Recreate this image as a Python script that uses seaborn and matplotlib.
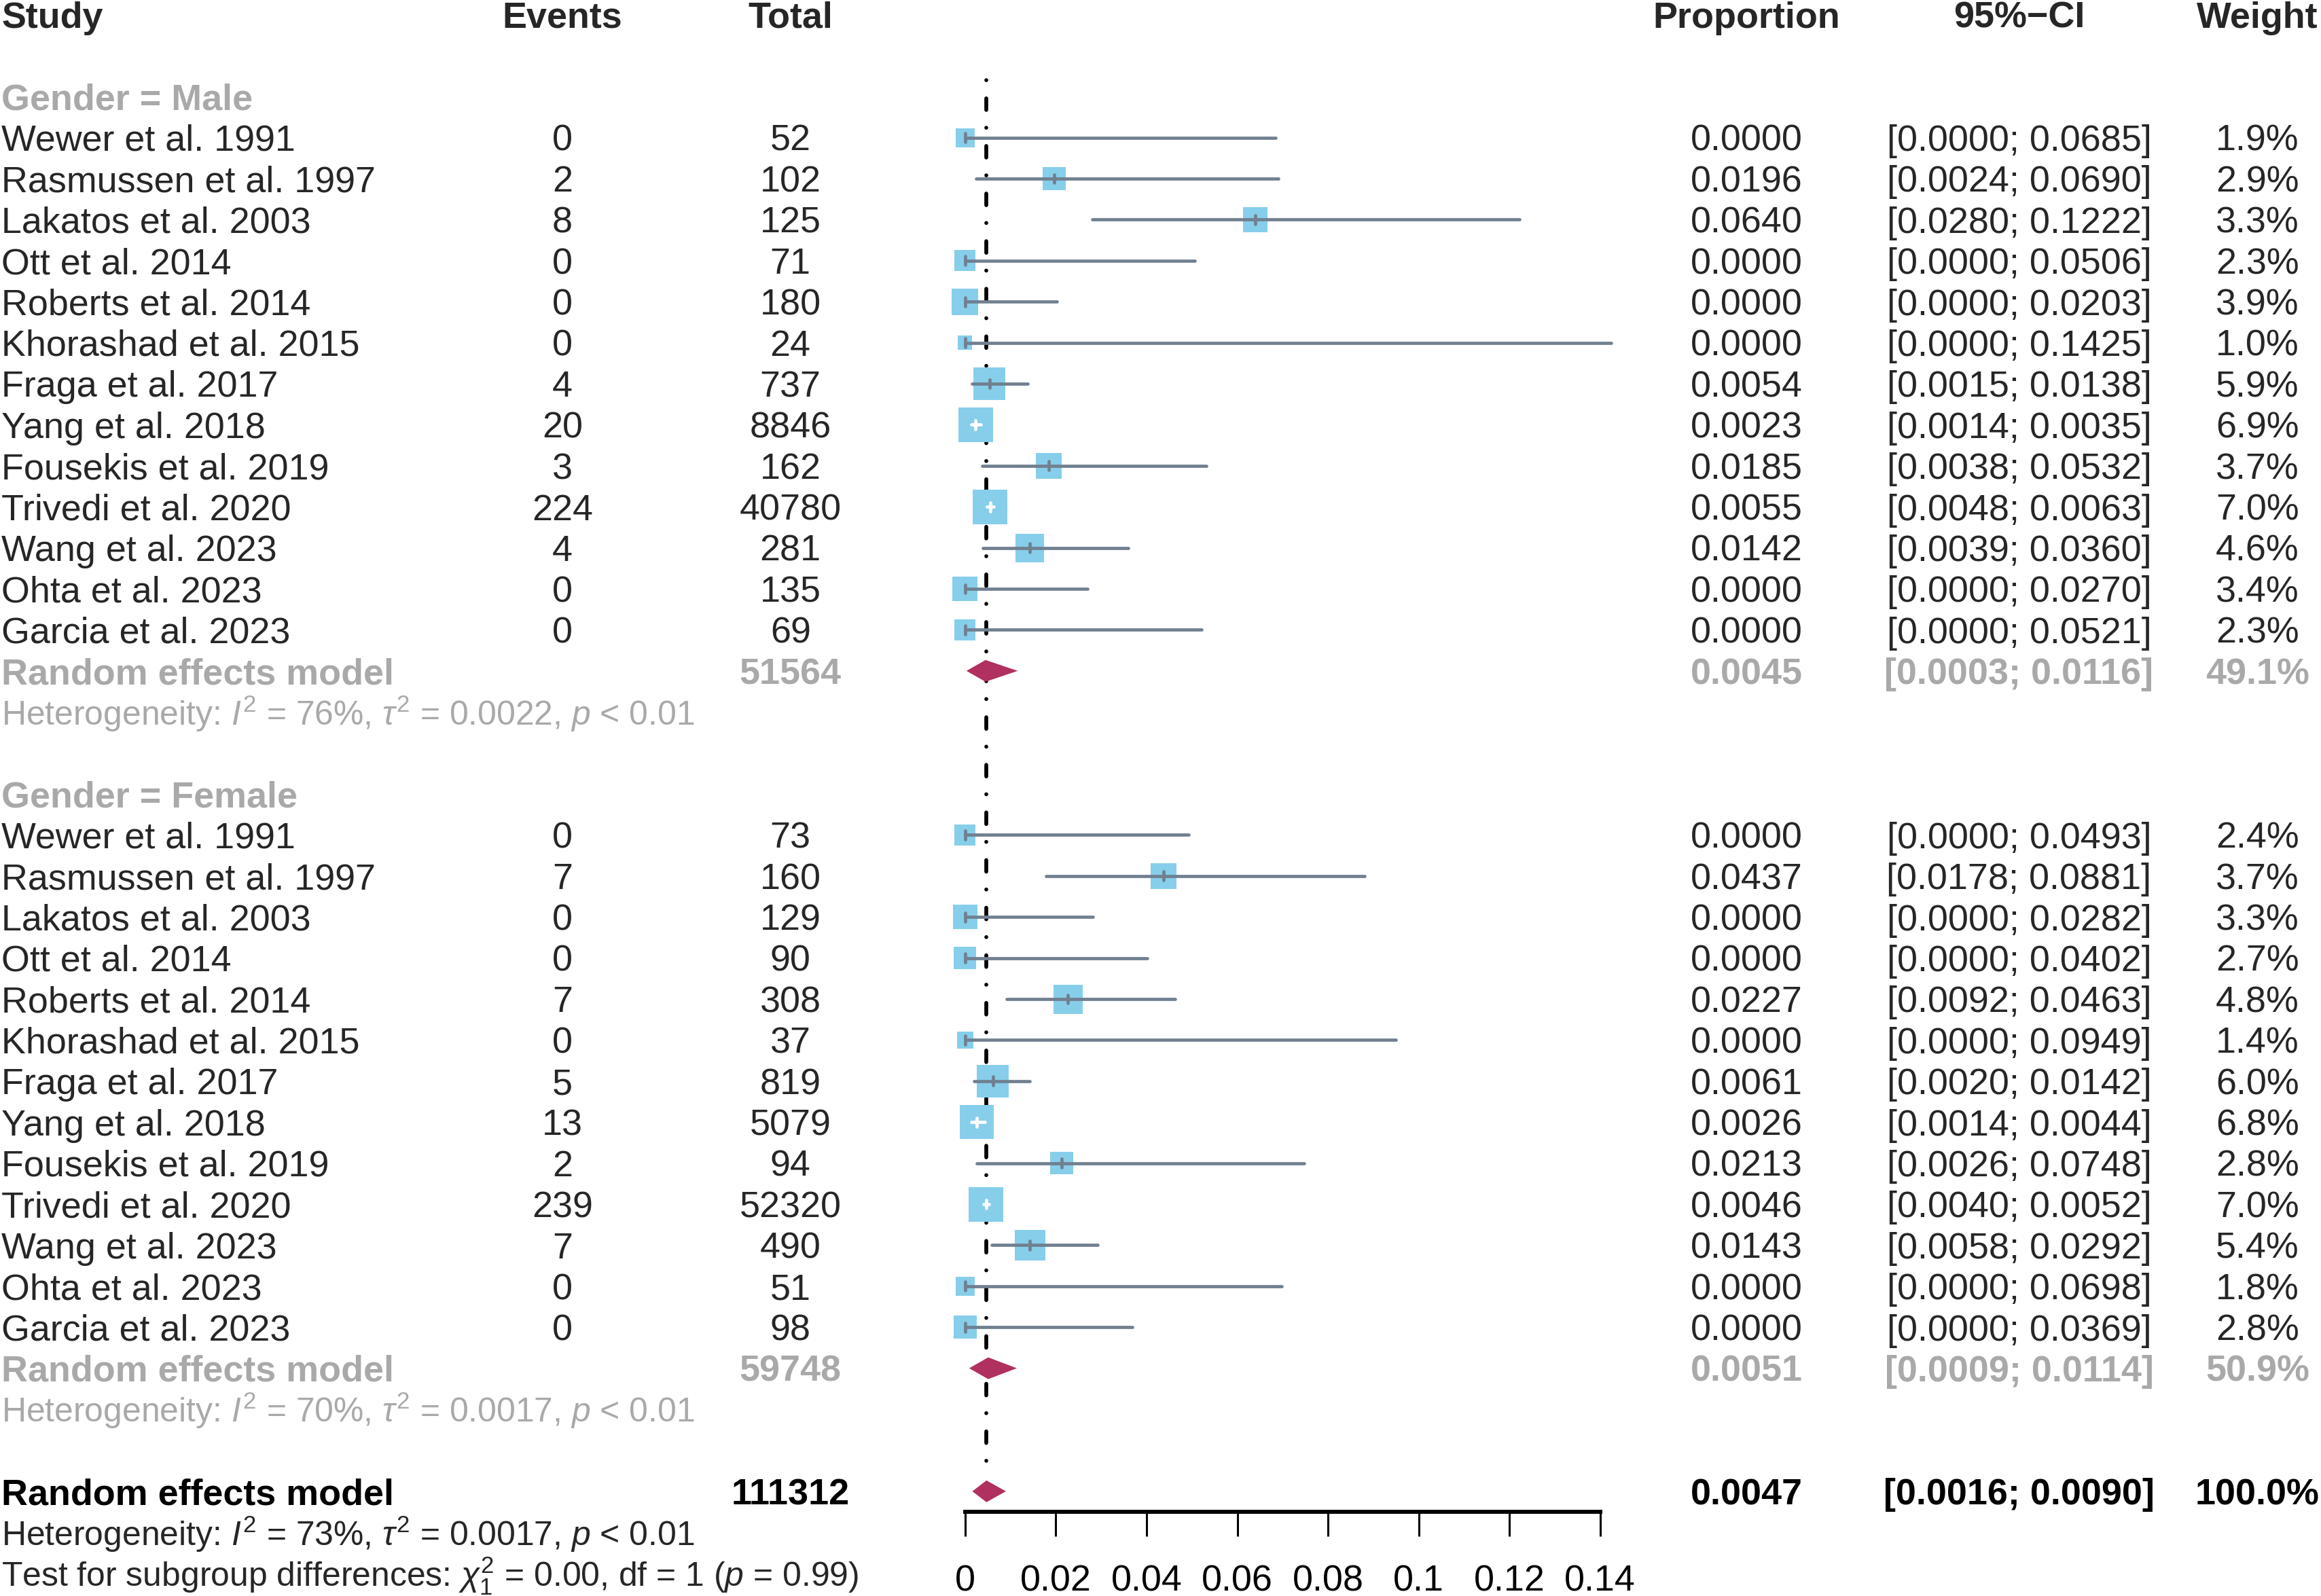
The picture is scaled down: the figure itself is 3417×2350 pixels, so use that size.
import numpy as np
import pandas as pd
import matplotlib
matplotlib.use("Agg")
import matplotlib.pyplot as plt
import seaborn as sns
from matplotlib.transforms import blended_transform_factory

# ---- data ----
studies = ["Wewer et al. 1991", "Rasmussen et al. 1997", "Lakatos et al. 2003",
           "Ott et al. 2014", "Roberts et al. 2014", "Khorashad et al. 2015",
           "Fraga et al. 2017", "Yang et al. 2018", "Fousekis et al. 2019",
           "Trivedi et al. 2020", "Wang et al. 2023", "Ohta et al. 2023",
           "Garcia et al. 2023"]

events_m = [0, 2, 8, 0, 0, 0, 4, 20, 3, 224, 4, 0, 0]
total_m = [52, 102, 125, 71, 180, 24, 737, 8846, 162, 40780, 281, 135, 69]
prop_m = [0.0000, 0.0196, 0.0640, 0.0000, 0.0000, 0.0000, 0.0054, 0.0023,
          0.0185, 0.0055, 0.0142, 0.0000, 0.0000]
lo_m = [0.0000, 0.0024, 0.0280, 0.0000, 0.0000, 0.0000, 0.0015, 0.0014,
        0.0038, 0.0048, 0.0039, 0.0000, 0.0000]
hi_m = [0.0685, 0.0690, 0.1222, 0.0506, 0.0203, 0.1425, 0.0138, 0.0035,
        0.0532, 0.0063, 0.0360, 0.0270, 0.0521]
w_m = [1.9, 2.9, 3.3, 2.3, 3.9, 1.0, 5.9, 6.9, 3.7, 7.0, 4.6, 3.4, 2.3]

events_f = [0, 7, 0, 0, 7, 0, 5, 13, 2, 239, 7, 0, 0]
total_f = [73, 160, 129, 90, 308, 37, 819, 5079, 94, 52320, 490, 51, 98]
prop_f = [0.0000, 0.0437, 0.0000, 0.0000, 0.0227, 0.0000, 0.0061, 0.0026,
          0.0213, 0.0046, 0.0143, 0.0000, 0.0000]
lo_f = [0.0000, 0.0178, 0.0000, 0.0000, 0.0092, 0.0000, 0.0020, 0.0014,
        0.0026, 0.0040, 0.0058, 0.0000, 0.0000]
hi_f = [0.0493, 0.0881, 0.0282, 0.0402, 0.0463, 0.0949, 0.0142, 0.0044,
        0.0748, 0.0052, 0.0292, 0.0698, 0.0369]
w_f = [2.4, 3.7, 3.3, 2.7, 4.8, 1.4, 6.0, 6.8, 2.8, 7.0, 5.4, 1.8, 2.8]

# random effects summaries: total, estimate, lower, upper, weight
re_male = [51564, 0.0045, 0.0003, 0.0116, 49.1]
re_female = [59748, 0.0051, 0.0009, 0.0114, 50.9]
re_all = [111312, 0.0047, 0.0016, 0.0090, 100.0]

het_male = r"Heterogeneity: $I^2$ = 76%, $\tau^2$ = 0.0022, $p$ < 0.01"
het_female = r"Heterogeneity: $I^2$ = 70%, $\tau^2$ = 0.0017, $p$ < 0.01"
het_all = r"Heterogeneity: $I^2$ = 73%, $\tau^2$ = 0.0017, $p$ < 0.01"
test_sub = r"Test for subgroup differences: $\chi^2_1$ = 0.00, df = 1 ($p$ = 0.99)"

headers = ["Study", "Events", "Total", "Proportion", "95%\u2212CI", "Weight"]
tick_vals = [0, 0.02, 0.04, 0.06, 0.08, 0.1, 0.12, 0.14]
tick_labels = ["0", "0.02", "0.04", "0.06", "0.08", "0.1", "0.12", "0.14"]

# ---- style ----
sns.set_theme(style="white")
plt.rcParams["font.family"] = ["Liberation Sans", "DejaVu Sans"]
plt.rcParams["mathtext.fontset"] = "custom"
plt.rcParams["mathtext.rm"] = "Liberation Sans"
plt.rcParams["mathtext.it"] = "Liberation Sans:italic"
plt.rcParams["mathtext.bf"] = "Liberation Sans:bold"

SQ = "#87CEEB"
LINE = "#708090"
DIA = "#B03060"
GREY = "#A9A9A9"
FS = 38.8
FS_HET = FS * 0.925

# layout grid in reference units (1568 x 1078.5)
W_PX, H_PX = 1568.0, 1078.5
ROW0, ROWH = 9.83, 27.72
col_x = {"study": 1, "events": 380, "total": 534, "prop": 1180, "ci": 1364, "weight": 1525}

male = pd.DataFrame({"study": studies, "events": events_m, "total": total_m,
                     "prop": prop_m, "lo": lo_m, "hi": hi_m, "w": w_m,
                     "row": np.arange(3, 16)})
female = pd.DataFrame({"study": studies, "events": events_f, "total": total_f,
                       "prop": prop_f, "lo": lo_f, "hi": hi_f, "w": w_f,
                       "row": np.arange(20, 33)})
df = pd.concat([male, female], ignore_index=True)

# square side in output pixels, and whether the CI sits inside it
px_per_unit = 429 * 3417 / W_PX / 0.14
side_px = 21 * df["w"].to_numpy() ** 0.456
df["s"] = (side_px * 0.72) ** 2
half = side_px / 2 / px_per_unit
inside = (df["lo"] >= df["prop"] - half) & (df["hi"] <= df["prop"] + half)
df["lc"] = np.where(inside, "white", LINE)

fig = plt.figure(figsize=(34.17, 23.5), dpi=100)
fig.patch.set_facecolor("white")
ax = fig.add_axes([652 / W_PX, 0, 429 / W_PX, 1])
ax.set_facecolor("none")
top_row = -ROW0 / ROWH
ax.set_xlim(0, 0.14)
ax.set_ylim(top_row + H_PX / ROWH, top_row)

# reference line at overall estimate
ax.plot([re_all[1], re_all[1]], [1.6, 35.6], color="black", lw=4.1,
        linestyle=(0, (0.01, 4.7, 3.0, 4.6)), dash_capstyle="round", zorder=1,
        clip_on=False)

# squares
sns.scatterplot(data=df, x="prop", y="row", marker="s", s=df["s"].to_numpy(),
                color=SQ, linewidth=0, ax=ax, legend=False, zorder=2, clip_on=False)
# confidence intervals and estimate ticks
ax.hlines(df["row"], df["lo"], df["hi"], colors=df["lc"], lw=3.4,
          capstyle="round", zorder=3, clip_on=False)
ax.vlines(df["prop"], df["row"] - 0.105, df["row"] + 0.105, colors=df["lc"],
          lw=3.4, capstyle="round", zorder=3, clip_on=False)

# diamonds
for r, summ in [(16, re_male), (33, re_female), (36, re_all)]:
    _, est, lo, hi, _ = summ
    ax.fill([lo, est, hi, est], [r, r - 0.265, r, r + 0.265], color=DIA,
            lw=0, zorder=3, clip_on=False)

# axis
for side in ["top", "left", "right"]:
    ax.spines[side].set_visible(False)
ax.spines["bottom"].set_position(("data", 36.5))
ax.spines["bottom"].set_bounds(0, 0.14)
ax.spines["bottom"].set_linewidth(4.3)
ax.spines["bottom"].set_color("black")
ax.set_xticks(tick_vals)
ax.set_xticklabels(tick_labels, fontsize=FS)
ax.tick_params(axis="x", direction="out", length=26, width=2.2, pad=30,
               colors="black", bottom=True)
ax.set_yticks([])
ax.set_xlabel("")
ax.set_ylabel("")
ax.grid(False)

# ---- text columns ----
trans = blended_transform_factory(fig.transFigure, ax.transData)


def put(col, row, s, ha="center", size=FS, **kw):
    ax.text(col_x[col] / W_PX, row + 0.32, s, transform=trans, ha=ha,
            va="baseline", fontsize=size, clip_on=False, **kw)


for col, h in zip(["study", "events", "total", "prop", "ci", "weight"], headers):
    put(col, 0, h, ha="left" if col == "study" else "center", fontweight="bold")

for _, d in df.iterrows():
    r = d["row"]
    put("study", r, d["study"], ha="left")
    put("events", r, f"{d['events']}")
    put("total", r, f"{d['total']}")
    put("prop", r, f"{d['prop']:.4f}")
    put("ci", r, f"[{d['lo']:.4f}; {d['hi']:.4f}]")
    put("weight", r, f"{d['w']:.1f}%")

put("study", 2, "Gender = Male", ha="left", fontweight="bold", color=GREY)
put("study", 19, "Gender = Female", ha="left", fontweight="bold", color=GREY)

for r, summ, colr in [(16, re_male, GREY), (33, re_female, GREY), (36, re_all, "black")]:
    tot, est, lo, hi, wt = summ
    kw = dict(fontweight="bold", color=colr)
    put("study", r, "Random effects model", ha="left", **kw)
    put("total", r, f"{tot}", **kw)
    put("prop", r, f"{est:.4f}", **kw)
    put("ci", r, f"[{lo:.4f}; {hi:.4f}]", **kw)
    put("weight", r, f"{wt:.1f}%", **kw)

put("study", 17, het_male, ha="left", size=FS_HET, color=GREY)
put("study", 34, het_female, ha="left", size=FS_HET, color=GREY)
put("study", 37, het_all, ha="left", size=FS_HET)
put("study", 38, test_sub, ha="left", size=FS_HET)

fig.savefig("out.png", dpi=100, facecolor="white")
